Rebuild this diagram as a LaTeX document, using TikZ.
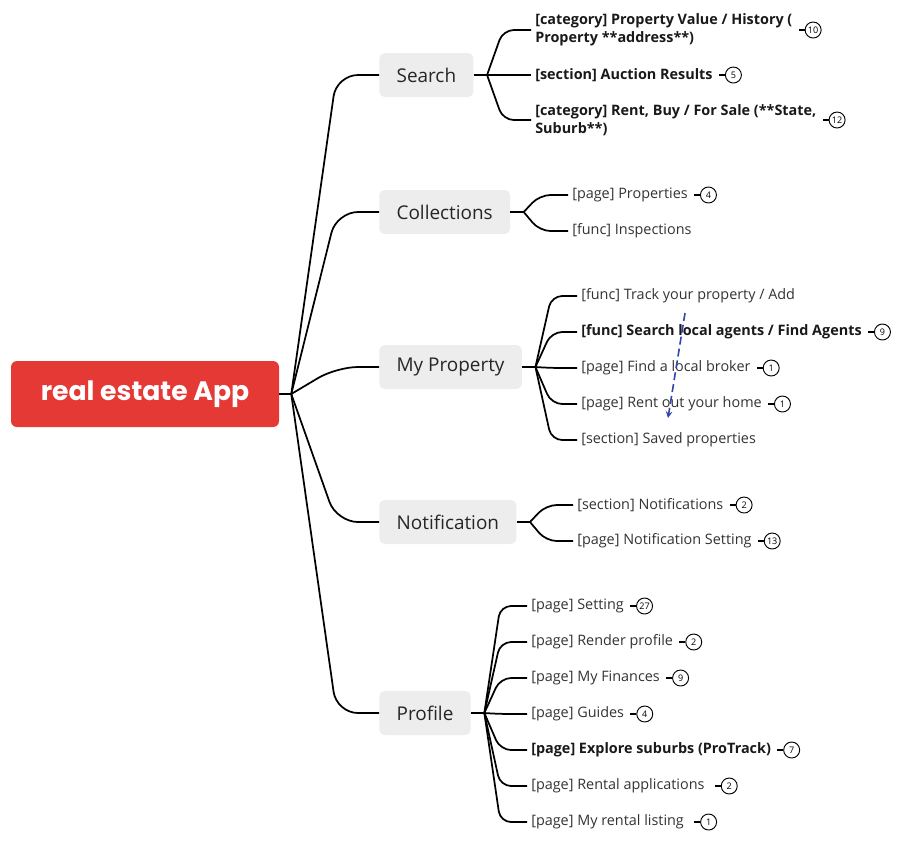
\documentclass[tikz,border=0pt]{standalone}
\usepackage{fontspec}
\setmainfont{Open Sans}
\newfontfamily\rootfont{Poppins}
\usetikzlibrary{positioning}

\definecolor{rootred}{HTML}{E53935}
\definecolor{boxgray}{HTML}{EDEDED}
\definecolor{leafgray}{HTML}{333333}
\definecolor{arrowblue}{HTML}{3344AA}

\tikzset{
  rootbox/.style={fill=rootred, rounded corners=4.5pt, text=white, minimum width=201pt, minimum height=49.5pt, font=\rootfont\bfseries\fontsize{20}{23}\selectfont},
  topicbox/.style={anchor=west, fill=boxgray, rounded corners=4pt, minimum height=33pt, inner xsep=13pt, font=\fontsize{14.2}{16}\selectfont, text=black!85},
  leaf/.style={anchor=west, inner sep=0pt, font=\fontsize{10.8}{13.5}\selectfont, text=leafgray, align=left},
  boldleaf/.style={leaf, font=\bfseries\fontsize{10.8}{13.5}\selectfont, text=black!90},
  badge/.style={circle, draw, line width=0.7pt, inner sep=0pt, minimum size=12pt, font=\fontsize{6.8}{7}\selectfont},
  link/.style={line width=1.3pt, rounded corners=16pt},
  twig/.style={line width=1.3pt, rounded corners=8pt},
}

\begin{document}
\begin{tikzpicture}[x=0.75pt, y=-0.75pt]
\useasboundingbox (0,0) rectangle (898,844);

% centre
\node[rootbox] (root) at (145,394) {real estate App};
\coordinate (rj) at ([xshift=9pt]root.east);
\draw[line width=1.3pt] (root.east) -- (rj);

% main topics
\node[topicbox] (search) at (379,75) {Search};
\node[topicbox] (coll) at (379,212) {Collections};
\node[topicbox] (myprop) at (379,367) {My Property};
\node[topicbox] (notif) at (379,522) {Notification};
\node[topicbox] (profile) at (379,713) {Profile};
\foreach \t in {search, coll, myprop, notif, profile}
  \draw[link] (rj) -- ([xshift=34pt]rj |- \t.west) -- (\t.west);

% Search
\node[boldleaf] (s1) at (535,30) {[category] Property Value / History (\\Property **address**)};
\node[boldleaf] (s2) at (535,75) {[section] Auction Results};
\node[boldleaf] (s3) at (535,120) {[category] Rent, Buy / For Sale (**State,\\Suburb**)};
\coordinate (sj) at ([xshift=10pt]search.east);
\draw[line width=1.3pt] (search.east) -- (sj);
\foreach \l in {s1, s2, s3}
  \draw[twig] (sj) -- ([xshift=12pt]sj |- \l.west) -- ([xshift=-3pt]\l.west);

% Collections
\node[leaf] (c1) at (572,195) {[page] Properties};
\node[leaf] (c2) at (572,231) {[func] Inspections};
\coordinate (cj) at ([xshift=10pt]coll.east);
\draw[line width=1.3pt] (coll.east) -- (cj);
\foreach \l in {c1, c2}
  \draw[twig] (cj) -- ([xshift=12pt]cj |- \l.west) -- ([xshift=-3pt]\l.west);

% My Property
\node[leaf] (m1) at (581,296) {[func] Track your property / Add};
\node[boldleaf] (m2) at (581,332) {[func] Search local agents / Find Agents};
\node[leaf] (m3) at (581,368) {[page] Find a local broker};
\node[leaf] (m4) at (581,404) {[page] Rent out your home};
\node[leaf] (m5) at (581,440) {[section] Saved properties};
\coordinate (mj) at ([xshift=10pt]myprop.east);
\draw[line width=1.3pt] (myprop.east) -- (mj);
\foreach \l in {m1, m2, m3, m4, m5}
  \draw[twig] (mj) -- ([xshift=12pt]mj |- \l.west) -- ([xshift=-3pt]\l.west);

% Notification
\node[leaf] (n1) at (577,505) {[section] Notifications};
\node[leaf] (n2) at (577,541) {[page] Notification Setting};
\coordinate (nj) at ([xshift=10pt]notif.east);
\draw[line width=1.3pt] (notif.east) -- (nj);
\foreach \l in {n1, n2}
  \draw[twig] (nj) -- ([xshift=12pt]nj |- \l.west) -- ([xshift=-3pt]\l.west);

% Profile
\node[leaf] (p1) at (531,606) {[page] Setting};
\node[leaf] (p2) at (531,642) {[page] Render profile};
\node[leaf] (p3) at (531,678) {[page] My Finances};
\node[leaf] (p4) at (531,714) {[page] Guides};
\node[boldleaf] (p5) at (531,750) {[page] Explore suburbs (ProTrack)};
\node[leaf] (p6) at (531,786) {[page] Rental applications};
\node[leaf] (p7) at (531,822) {[page] My rental listing};
\coordinate (pj) at ([xshift=10pt]profile.east);
\draw[line width=1.3pt] (profile.east) -- (pj);
\foreach \l in {p1, p2, p3, p4, p5, p6, p7}
  \draw[twig] (pj) -- ([xshift=12pt]pj |- \l.west) -- ([xshift=-3pt]\l.west);

% counters
\foreach \l/\n/\g in {s1/10/9, s2/5/9, s3/12/9, c1/4/9, m2/9/9, m3/1/9, m4/1/9,
    n1/2/9, n2/13/9, p1/27/9, p2/2/9, p3/9/9, p4/4/9, p5/7/9, p6/2/12, p7/1/12} {
  \node[badge, right=\g pt of \l] (b\l) {\n};
  \draw[line width=0.9pt] (b\l.west) -- ++(-6,0);
}

% moved item
\coordinate (arrS) at (685,313);
\coordinate (arrE) at (668,418);
\draw[arrowblue, line width=1.2pt, dash pattern=on 6pt off 3pt, -stealth] (arrS) -- (arrE);
\end{tikzpicture}
\end{document}
